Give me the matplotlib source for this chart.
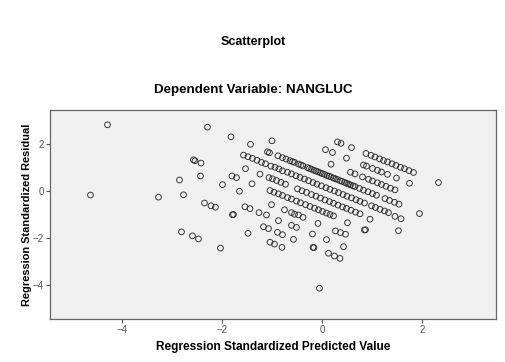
import matplotlib
matplotlib.use("Agg")
import matplotlib.pyplot as plt

plt.rcParams["font.family"] = ["Liberation Sans", "DejaVu Sans"]

# regression standardized predicted value (x) / standardized residual (y)
# scattered points away from the bands
pred_loose = [-4.30, -4.64, -3.28, -2.86, -2.78, -2.82, -2.60, -2.48, -2.04, -2.58,
              -2.55, -2.43, -2.44, -2.30, -1.83, -1.44, -2.00, -1.81, -1.72, -1.54,
              -1.25, -1.41, -1.66, -2.36, -2.23, -2.14, -1.80, -1.78, -1.55, -1.45,
              -1.27, -1.12, -1.49, -1.02, -0.76, -0.62, -0.56, -0.48, -0.39, -0.88,
              -1.18, -1.08, -0.90, -0.80, -0.62, -0.52, -1.05, -0.96, -0.81, -0.58,
              -0.20, -0.19, -0.17, -0.09, 0.08, 0.26, 0.36, 0.46, 0.50, 0.42,
              0.12, 0.24, 0.35, -0.06, 0.84, 0.86, 0.95, 1.45, 1.57, 1.52,
              1.94, 2.32, -1.01, -1.10, -1.06, -0.89, -0.80, -0.73]
resid_loose = [2.82, -0.17, -0.26, 0.47, -0.16, -1.74, -1.91, -2.04, -2.43, 1.33,
               1.29, 1.19, 0.64, 2.72, 2.31, 1.99, 0.27, 0.64, 0.57, 0.95,
               0.72, 0.31, -0.01, -0.51, -0.63, -0.69, -1.01, -1.00, -0.67, -0.75,
               -0.92, -1.02, -1.80, -0.58, -0.80, -0.92, -0.99, -1.02, -1.12, -1.26,
               -1.52, -1.60, -1.76, -1.86, -1.46, -1.55, -2.18, -2.26, -2.40, -2.06,
               -1.83, -2.40, -2.41, -1.38, -2.07, -1.70, -1.77, -1.84, -1.35, -2.37,
               -2.65, -2.77, -2.87, -4.14, -1.66, -1.65, -1.20, -1.08, -1.18, -1.69,
               -0.96, 0.36, 2.14, 1.67, 1.63, 1.50, 1.42, 1.36]

# top band (upper right)
pred_top = [0.30, 0.37, 0.58, 0.87, 0.97, 1.05, 1.14, 1.22, 1.30, 1.39, 1.47, 1.56, 1.64, 1.73, 1.82]
resid_top = [2.09, 2.03, 1.85, 1.60, 1.52, 1.45, 1.37, 1.30, 1.24, 1.16, 1.09, 1.01, 0.95, 0.87, 0.79]

pred_b2 = [0.06, 0.20, 0.48, 0.82, 0.88, 1.00, 1.10, 1.18, 1.30, 1.48, 1.74]
resid_b2 = [1.76, 1.64, 1.40, 1.11, 1.06, 0.96, 0.88, 0.81, 0.71, 0.55, 0.33]

pred_b3 = [0.17, 0.56, 0.65, 0.80, 0.92, 1.00, 1.10, 1.18, 1.27, 1.36, 1.45]
resid_b3 = [1.14, 0.80, 0.73, 0.60, 0.50, 0.43, 0.35, 0.28, 0.20, 0.12, 0.05]

# main dark band
pred_main = [-0.65, -0.56, -0.48, -0.39, -0.30, -0.22, -0.13, -0.04, 0.04, 0.13,
             0.22, 0.30, 0.39, 0.48, 0.56, 0.65, 0.74, 0.82, 0.91, 1.00,
             1.08, 1.25, 1.34, 1.44, 1.53,
             -0.60, -0.43, -0.26, -0.17, -0.09, 0.00, 0.09, 0.17, 0.26, 0.35,
             0.44, 0.52, 0.61]
resid_main = [1.29, 1.22, 1.15, 1.07, 1.00, 0.93, 0.85, 0.77, 0.71, 0.63,
              0.55, 0.49, 0.41, 0.33, 0.26, 0.19, 0.11, 0.04, -0.03, -0.11,
              -0.18, -0.32, -0.40, -0.48, -0.56,
              1.25, 1.11, 0.96, 0.88, 0.82, 0.74, 0.66, 0.60, 0.52, 0.44,
              0.37, 0.30, 0.22]

pred_b5 = [-1.58, -1.49, -1.40, -1.31, -1.22, -1.14, -1.03, -0.95, -0.87, -0.80,
           -0.70, -0.62, -0.53, -0.45, -0.36, -0.28, -0.19, -0.11, -0.02, 0.07,
           0.15, 0.24, 0.32, 0.41, 0.49, 0.58, 0.67, 0.75, 0.84, 0.98,
           1.06, 1.15, 1.24, 1.32]
resid_b5 = [1.53, 1.46, 1.39, 1.31, 1.22, 1.16, 1.06, 1.01, 0.94, 0.86,
            0.80, 0.73, 0.65, 0.58, 0.51, 0.44, 0.36, 0.29, 0.22, 0.14,
            0.07, 0.00, -0.07, -0.15, -0.22, -0.29, -0.37, -0.44, -0.51, -0.63,
            -0.70, -0.78, -0.85, -0.92]

pred_b6 = [-1.07, -1.00, -0.92, -0.83, -0.74, -0.50, -0.41, -0.32, -0.22, -0.13,
           -0.04, 0.05, 0.14, 0.22, 0.31, 0.40, 0.48, 0.57, 0.66, 0.75]
resid_b6 = [0.57, 0.52, 0.45, 0.37, 0.29, 0.09, 0.01, -0.06, -0.15, -0.22,
            -0.30, -0.38, -0.45, -0.52, -0.60, -0.68, -0.74, -0.82, -0.90, -0.97]

pred_b7 = [-1.05, -0.97, -0.88, -0.80, -0.70, -0.62, -0.52, -0.44, -0.34, -0.25,
           -0.16, -0.08, 0.00, 0.08, 0.15, 0.22]
resid_b7 = [0.02, -0.05, -0.12, -0.19, -0.28, -0.34, -0.43, -0.50, -0.58, -0.66,
            -0.73, -0.80, -0.87, -0.94, -1.00, -1.06]

x_ticks = [-4, -2, 0, 2]
y_ticks = [-4, -2, 0, 2]

pred = pred_loose + pred_top + pred_b2 + pred_b3 + pred_main + pred_b5 + pred_b6 + pred_b7
resid = resid_loose + resid_top + resid_b2 + resid_b3 + resid_main + resid_b5 + resid_b6 + resid_b7

fig = plt.figure(figsize=(5.06, 3.62), dpi=100)
ax = fig.add_axes([0.0988, 0.1188, 0.8814, 0.5773])
ax.set_facecolor("#f0f0f0")
ax.scatter(pred, resid, s=17, facecolors="none", edgecolors="#2a2a2a", linewidths=0.65)

ax.set_xlim(-5.45, 3.47)
ax.set_ylim(-5.45, 3.45)
ax.set_xticks(x_ticks)
ax.set_yticks(y_ticks)
ax.tick_params(labelsize=7, labelcolor="#555555", color="#555555", length=3, width=0.8, pad=1.5)
for sp in ax.spines.values():
    sp.set_color("#666666")
    sp.set_linewidth(0.9)

ax.set_xlabel("Regression Standardized Predicted Value", fontsize=8.6, fontweight="bold", labelpad=4)
ax.set_ylabel("Regression Standardized Residual", fontsize=7.9, fontweight="bold")
ax.yaxis.set_label_coords(-0.041, 0.5)

fig.text(0.5, 0.884, "Scatterplot", ha="center", va="center", fontsize=9, fontweight="bold")
fig.text(0.5, 0.751, "Dependent Variable: NANGLUC", ha="center", va="center", fontsize=9.6, fontweight="bold")

fig.savefig("out.png", dpi=100)
